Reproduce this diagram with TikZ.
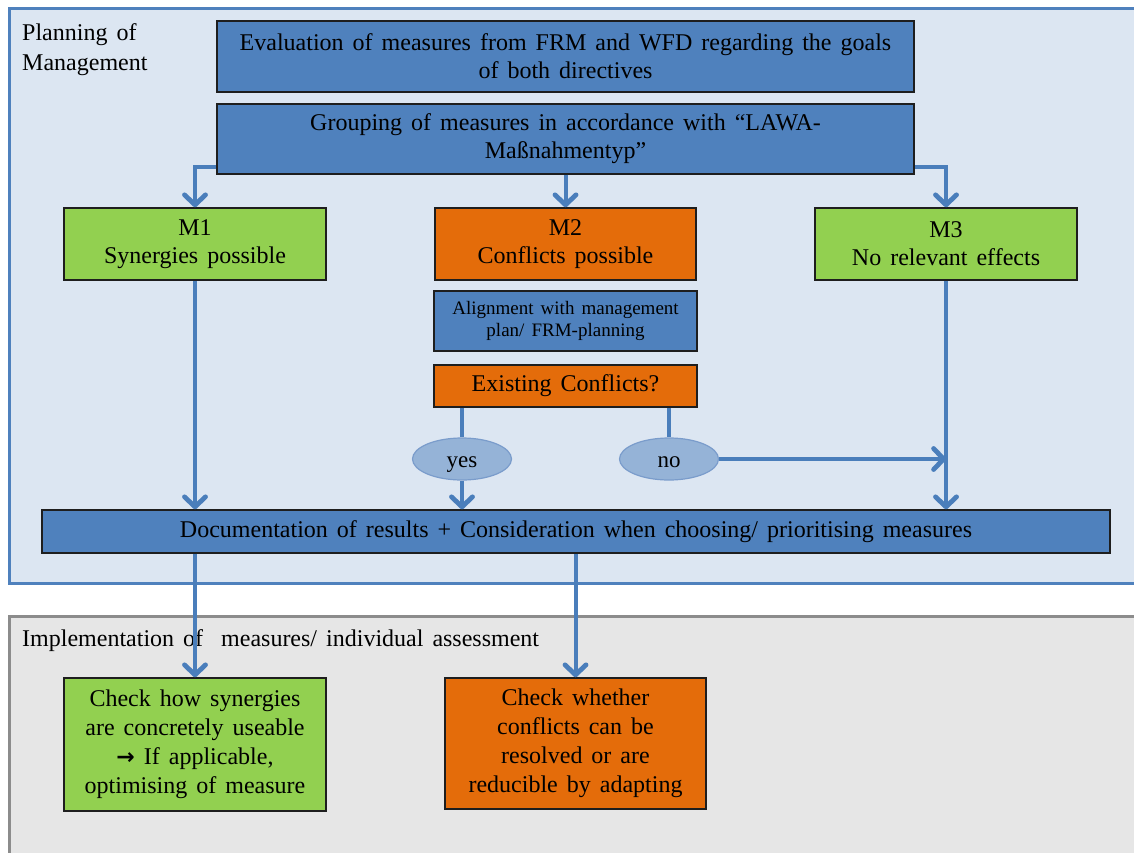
\documentclass[tikz,border=0pt]{standalone}
\usepackage{fontspec}
\setmainfont{Liberation Serif}[WordSpace=1.5]
\newfontfamily\arrowfont{DejaVu Sans}
\usetikzlibrary{arrows.meta,shapes.geometric}
\definecolor{panelfill}{HTML}{DCE6F2}
\definecolor{panelline}{HTML}{4F81BD}
\definecolor{grayfill}{HTML}{E6E6E6}
\definecolor{grayline}{HTML}{8C8C8C}
\definecolor{boxblue}{HTML}{4F81BD}
\definecolor{boxline}{HTML}{1E1E1E}
\definecolor{boxgreen}{HTML}{92D050}
\definecolor{boxorange}{HTML}{E46C0A}
\definecolor{answerfill}{HTML}{95B3D7}
\definecolor{answerline}{HTML}{7A9CCB}
\definecolor{flowblue}{HTML}{4A7EBB}
\begin{document}
\begin{tikzpicture}[x=1pt, y=-1pt,
    box/.style={draw=boxline, line width=1.5pt, align=center, inner sep=2pt, font=\fontsize{24}{28}\selectfont},
    bluebox/.style={box, fill=boxblue},
    greenbox/.style={box, fill=boxgreen},
    orangebox/.style={box, fill=boxorange},
    answer/.style={ellipse, draw=answerline, line width=1.2pt, fill=answerfill, minimum width=99pt, minimum height=42pt, inner sep=0pt, text height=20pt, text depth=4pt, font=\fontsize{23}{28}\selectfont},
    flow/.style={draw=flowblue, line width=4pt},
    flowarrow/.style={flow, -{Straight Barb[length=10pt, width=21pt, line width=0pt 1.2, round]}}]
    \useasboundingbox (0,0) rectangle (1134,853);

    \draw[panelline, line width=3pt, fill=panelfill] (9,9) rectangle (1150,583);
    \draw[grayline, line width=3pt, fill=grayfill] (9,616) rectangle (1150,870);

    \node[anchor=north west, inner sep=0pt, align=left, font=\fontsize{24}{30}\selectfont] (planning) at (22,23.6) {Planning of\\Management};
    \node[anchor=base west, inner sep=0pt, font=\fontsize{24}{30}\selectfont] (implementation) at (22,646) {Implementation of\ \ measures/ individual assessment};

    \node[bluebox, minimum width=697pt, minimum height=71pt] (eval) at (565.5,56.5) {Evaluation of measures from FRM and WFD regarding the goals\\of both directives};
    \node[bluebox, minimum width=697pt, minimum height=70pt] (group) at (565.5,139) {Grouping of measures in accordance with “LAWA-\\Maßnahmentyp”};

    \node[greenbox, minimum width=262pt, minimum height=72pt] (mone) at (195,244) {M1\\Synergies possible};
    \node[orangebox, minimum width=261pt, minimum height=72pt] (mtwo) at (565.5,244) {M2\\Conflicts possible};
    \node[greenbox, minimum width=262pt, minimum height=72pt] (mthree) at (946,244) {M3\\No relevant effects};

    \node[bluebox, minimum width=263pt, minimum height=60pt, font=\fontsize{19}{22}\selectfont] (align) at (565.5,321) {Alignment with management\\plan/ FRM-planning};
    \node[orangebox, minimum width=263pt, minimum height=42pt] (exist) at (565.5,386) {Existing Conflicts?};

    \node[answer] (yes) at (462,459) {yes};
    \node[answer] (no) at (669,459) {no};

    \node[bluebox, minimum width=1068pt, minimum height=43pt] (doc) at (576,531.5) {Documentation of results + Consideration when choosing/ prioritising measures};

    \node[greenbox, minimum width=262pt, minimum height=133pt, font=\fontsize{24}{29}\selectfont] (synergy) at (195,744.5) {Check how synergies\\are concretely useable\\{\arrowfont\bfseries\fontsize{22}{29}\selectfont →} If applicable,\\optimising of measure};
    \node[orangebox, minimum width=261pt, minimum height=131pt, font=\fontsize{24}{29}\selectfont] (conflict) at (575.5,743.5) {Check whether\\conflicts can be\\resolved or are\\reducible by adapting};

    \draw[flowarrow] ([yshift=8pt]group.south west) -| (mone.north);
    \draw[flowarrow] (group.south) -- (mtwo.north);
    \draw[flowarrow] ([yshift=8pt]group.south east) -| (mthree.north);

    \draw[flowarrow] (mone.south) -- (mone.south |- doc.north);
    \draw[flowarrow] (mthree.south) -- (mthree.south |- doc.north);

    \draw[flow] (yes.north |- exist.south) -- (yes.north);
    \draw[flowarrow] (yes.south) -- (yes.south |- doc.north);
    \draw[flow] (no.north |- exist.south) -- (no.north);
    \draw[flowarrow] (no.east) -- (no.east -| mthree.south);

    \draw[flowarrow] (doc.south -| synergy.north) -- (synergy.north);
    \draw[flowarrow] (doc.south -| conflict.north) -- (conflict.north);
\end{tikzpicture}
\end{document}
